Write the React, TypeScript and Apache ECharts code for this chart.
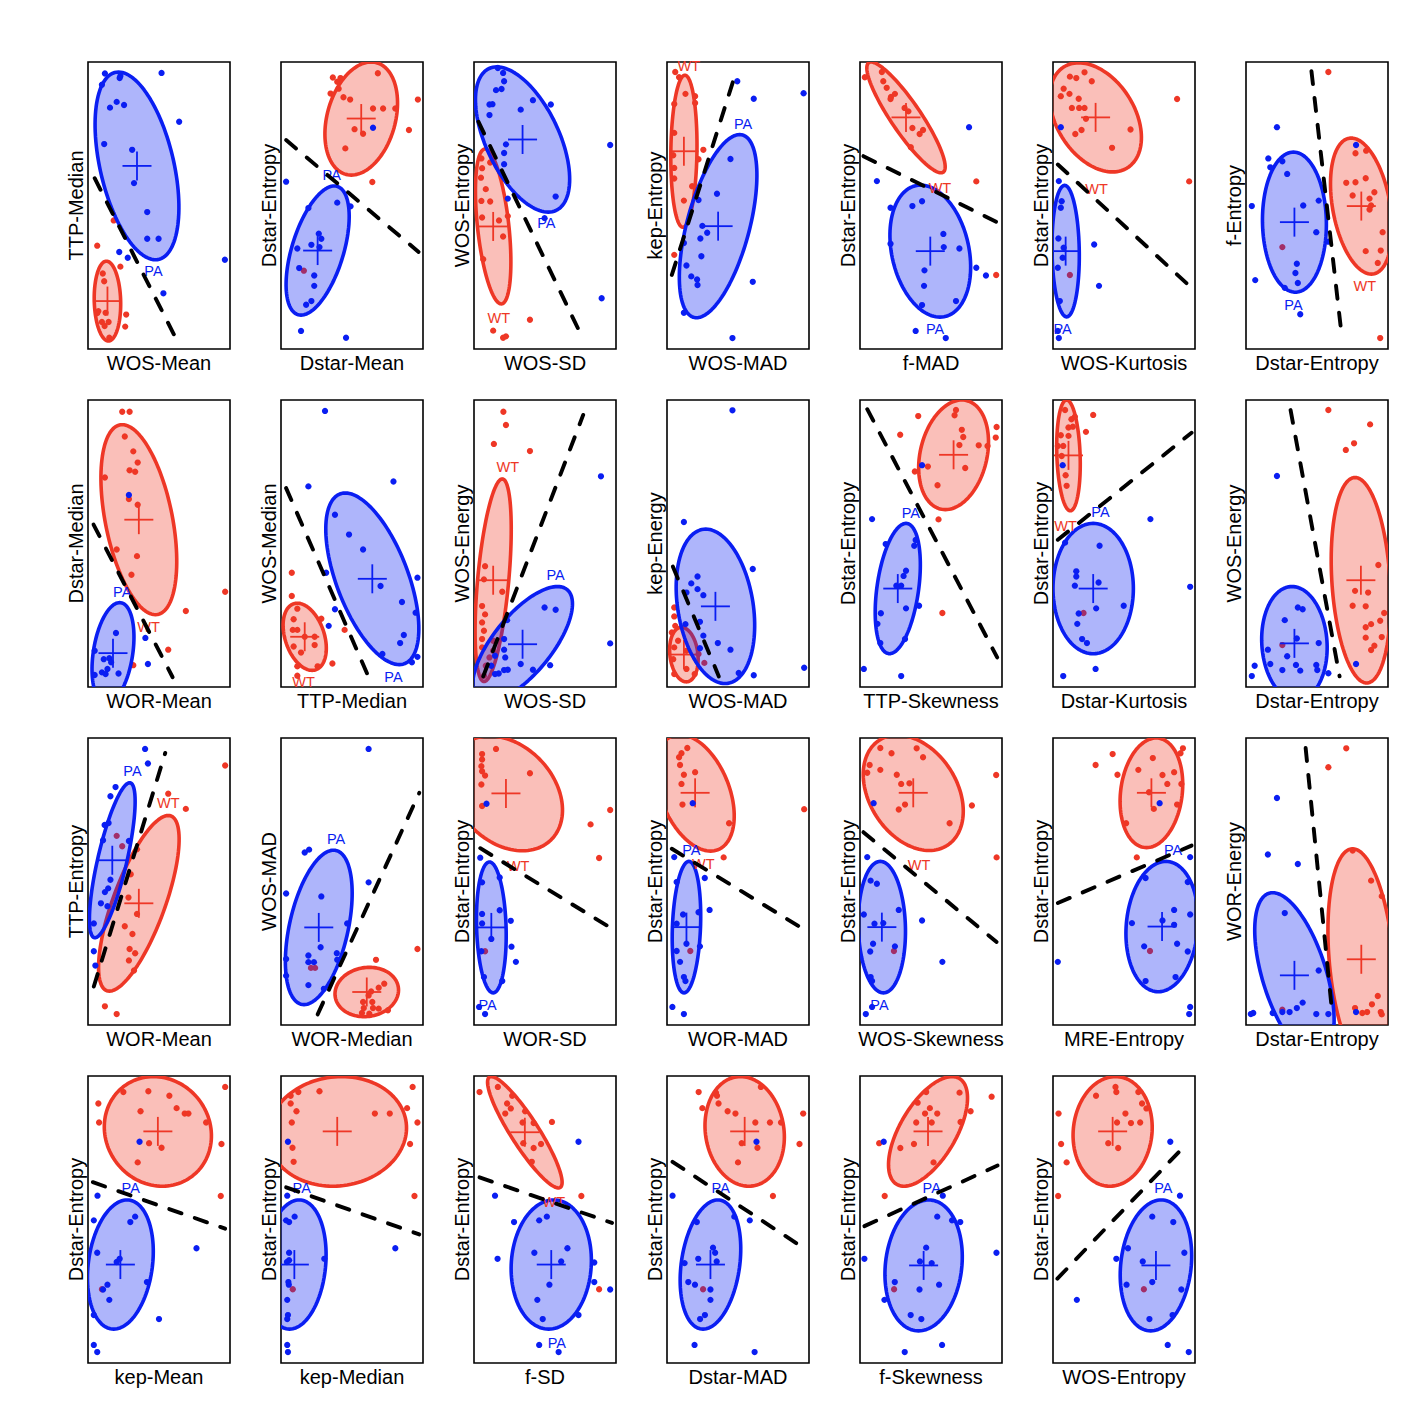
import React, { useEffect, useRef } from "react";
import * as echarts from "echarts";

// ---- axis titles ----
const xNames = [
  "WOS-Mean", "Dstar-Mean", "WOS-SD", "WOS-MAD", "f-MAD", "WOS-Kurtosis", "Dstar-Entropy",
  "WOR-Mean", "TTP-Median", "WOS-SD", "WOS-MAD", "TTP-Skewness", "Dstar-Kurtosis", "Dstar-Entropy",
  "WOR-Mean", "WOR-Median", "WOR-SD", "WOR-MAD", "WOS-Skewness", "MRE-Entropy", "Dstar-Entropy",
  "kep-Mean", "kep-Median", "f-SD", "Dstar-MAD", "f-Skewness", "WOS-Entropy",
];
const yNames = [
  "TTP-Median", "Dstar-Entropy", "WOS-Entropy", "kep-Entropy", "Dstar-Entropy", "Dstar-Entropy", "f-Entropy",
  "Dstar-Median", "WOS-Median", "WOS-Energy", "kep-Energy", "Dstar-Entropy", "Dstar-Entropy", "WOS-Energy",
  "TTP-Entropy", "WOS-MAD", "Dstar-Entropy", "Dstar-Entropy", "Dstar-Entropy", "Dstar-Entropy", "WOR-Energy",
  "Dstar-Entropy", "Dstar-Entropy", "Dstar-Entropy", "Dstar-Entropy", "Dstar-Entropy", "Dstar-Entropy",
];

// ---- points (scaled 0..100 within each panel), WT = red, PA = blue ----
const red01 = [[18.1,44.8],[6.5,36.0],[22.8,28.7],[10.4,26.3],[11.4,23.6],[7.3,13.2],[6.5,12.5],[12.4,12.6],[26.9,12.0],[9.8,9.4],[14.5,9.4],[26.2,7.8],[11.7,8.0],[15.0,3.9]];
const blue01 = [[11.9,96.0],[22.8,95.1],[22.3,94.4],[9.8,92.1],[51.8,96.2],[15.5,84.1],[20.2,86.1],[25.4,85.0],[64.2,79.2],[11.4,71.4],[31.1,69.4],[32.4,57.8],[41.7,47.7],[41.7,38.4],[49.7,38.4],[22.0,33.8],[28.0,31.8],[96.4,31.1],[53.1,19.4]];
const red02 = [[36.5,94.6],[41.9,94.4],[39.6,93.1],[40.6,90.7],[68.2,96.1],[34.9,89.0],[44.0,87.7],[48.7,86.9],[96.4,86.9],[64.8,83.8],[71.9,83.8],[80.5,83.8],[51.8,76.6],[57.8,75.0],[90.1,76.3],[45.3,69.9],[64.3,58.2],[16.1,27.3]];
const blue02 = [[3.6,58.3],[64.8,77.1],[39.6,51.0],[49.0,49.7],[19.3,49.1],[26.6,40.2],[28.4,38.4],[21.4,36.3],[27.1,35.5],[11.5,35.0],[12.8,28.2],[23.4,25.6],[23.4,22.0],[21.4,16.7],[17.7,15.4],[14.1,6.3],[45.8,3.9]];
const red03 = [[5.2,66.4],[11.4,65.0],[5.7,63.0],[4.9,59.7],[8.3,55.7],[5.2,51.6],[11.4,51.4],[5.7,45.8],[17.6,44.8],[23.8,46.3],[20.5,39.2],[6.5,31.3],[39.4,10.2],[13.5,6.4],[20.5,3.9],[22.5,4.4]];
const blue03 = [[16.8,97.9],[20.5,96.2],[21.2,93.3],[15.5,90.2],[19.4,90.6],[10.9,85.2],[13.0,85.3],[10.9,81.5],[32.9,83.4],[41.5,86.7],[54.1,85.2],[22.5,71.3],[21.2,68.3],[21.2,64.4],[95.9,71.1],[23.8,52.4],[57.5,53.1],[49.7,45.6],[89.9,17.7]];
const red04 = [[5.8,96.5],[8.5,94.7],[13.0,88.9],[19.8,88.1],[19.8,85.7],[5.1,85.4],[5.1,75.3],[25.6,69.4],[4.4,67.5],[22.2,66.1],[5.1,63.1],[5.1,59.4],[17.7,56.7],[11.9,51.7],[5.1,32.8]];
const blue04 = [[49.5,93.3],[61.1,87.2],[96.2,89.1],[44.7,66.2],[35.2,54.1],[22.2,51.9],[24.9,42.9],[28.3,40.5],[23.5,38.5],[11.9,36.9],[24.2,32.3],[13.7,29.1],[17.1,25.3],[21.2,24.2],[21.5,22.3],[60.4,23.4],[11.9,12.6],[46.1,3.8]];
const red05 = [[3.4,94.7],[15.4,96.5],[16.4,93.3],[18.8,91.0],[21.8,87.8],[24.6,88.9],[21.5,87.1],[31.4,84.0],[34.1,82.8],[36.9,77.0],[42.0,74.9],[44.4,76.3],[35.8,70.3],[81.9,58.4],[95.9,25.8]];
const blue05 = [[76.8,77.3],[11.9,58.5],[21.5,49.2],[36.9,49.8],[43.7,51.5],[21.5,36.7],[58.7,40.1],[59.0,35.5],[70.0,35.0],[45.4,27.4],[45.1,22.0],[81.9,28.3],[88.7,25.6],[43.7,15.3],[67.6,16.7],[39.2,6.3],[60.4,3.8]];
const red06 = [[11.9,94.9],[16.4,94.4],[22.2,96.4],[27.3,93.3],[7.5,90.7],[5.5,88.1],[11.6,88.9],[18.1,87.2],[13.3,84.0],[18.4,84.0],[22.2,84.0],[23.2,80.2],[15.7,74.9],[20.1,76.3],[54.6,76.5],[41.6,70.1],[87.4,87.1],[95.9,58.4],[11.9,25.8]];
const blue06 = [[5.5,77.3],[4.1,58.5],[6.1,51.5],[5.5,49.2],[3.8,38.5],[7.5,35.3],[6.8,31.8],[3.4,28.3],[29.0,36.4],[32.4,22.0],[4.8,16.7],[3.4,6.3],[4.1,3.8]];
const red07 = [[58.0,96.5],[77.1,68.2],[84.6,69.1],[77.1,58.1],[70.6,57.9],[84.3,59.5],[75.1,53.5],[90.4,54.6],[87.0,52.4],[88.1,50.0],[87.0,48.6],[96.2,40.7],[84.3,34.1],[94.9,34.3],[92.8,30.0],[94.5,3.8],[25.6,35.5]];
const blue07 = [[21.8,77.3],[77.5,71.1],[15.7,66.4],[25.6,65.4],[17.1,63.3],[29.0,61.0],[51.2,51.7],[40.3,50.0],[4.1,49.8],[49.5,40.7],[58.0,37.4],[35.8,29.7],[34.8,26.5],[36.5,23.0],[27.3,21.3],[6.5,24.0],[38.2,12.1]];
const red08 = [[24.1,95.9],[29.3,95.9],[25.9,87.3],[31.9,82.1],[35.0,78.2],[29.3,75.5],[33.2,75.0],[11.9,73.0],[28.8,65.5],[35.0,63.5],[20.2,47.9],[34.5,45.6],[30.6,39.1],[96.6,33.2],[68.9,26.5],[56.5,13.0],[31.9,7.6]];
const blue08 = [[28.8,66.9],[19.7,18.8],[40.4,17.1],[4.7,12.6],[11.1,9.7],[15.0,10.0],[16.3,8.6],[13.7,6.3],[9.8,5.1],[12.4,4.5],[4.7,4.2],[21.5,4.7],[42.2,8.0]];
const red09 = [[7.6,39.8],[7.6,31.7],[11.5,27.3],[8.9,23.6],[28.4,23.8],[8.3,19.9],[11.5,19.9],[23.7,17.5],[16.7,17.5],[8.9,14.1],[23.7,14.6],[14.1,12.0],[44.8,19.9],[36.2,8.2],[11.5,7.2],[25.8,7.2],[11.5,3.9]];
const blue09 = [[31.0,96.2],[19.3,69.9],[79.2,71.6],[38.0,60.0],[47.9,53.1],[57.8,47.9],[31.8,39.8],[70.1,35.2],[96.1,38.1],[85.2,29.6],[94.8,25.9],[38.0,27.1],[33.6,21.3],[86.5,18.1],[83.9,15.3],[71.4,11.5],[96.1,10.5],[92.2,8.6]];
const red10 = [[20.7,95.9],[22.5,91.3],[14.0,84.7],[39.4,82.2],[7.8,42.1],[7.0,37.5],[19.9,33.2],[5.7,28.2],[7.8,25.3],[5.7,22.5],[7.0,19.6],[5.7,16.7],[13.5,16.1],[5.7,13.8],[13.5,12.6],[10.9,10.3],[8.3,7.4],[7.0,3.9]];
const blue10 = [[89.4,73.4],[95.9,15.2],[49.7,27.7],[57.5,26.9],[23.3,23.3],[21.2,16.7],[21.2,13.0],[22.0,10.3],[14.8,10.9],[21.2,5.9],[17.4,4.7],[23.8,6.0],[32.9,8.0],[41.5,6.0],[53.6,7.6],[12.2,7.4],[14.8,4.5]];
const red11 = [[5.1,27.7],[5.1,24.6],[5.8,21.3],[3.4,19.0],[7.8,16.1],[5.1,13.8],[13.7,12.6],[4.4,9.7],[13.7,6.3],[5.1,4.5],[19.5,4.5],[26.3,8.4],[22.2,11.5]];
const blue11 = [[46.1,96.4],[11.9,57.5],[60.4,41.1],[21.5,38.5],[17.1,36.1],[21.5,34.1],[13.7,32.9],[25.6,32.0],[23.2,22.7],[13.0,21.9],[25.6,17.9],[35.8,15.3],[44.7,13.0],[23.2,13.5],[50.5,4.9],[61.1,4.1],[96.6,6.7]];
const red12 = [[67.6,96.5],[66.6,94.7],[41.0,94.4],[96.2,90.6],[95.6,86.9],[71.7,89.6],[72.7,87.1],[28.3,87.9],[83.6,84.2],[89.8,84.0],[70.0,84.3],[47.8,76.8],[74.1,76.3],[38.6,75.1],[54.6,70.3],[55.3,58.4],[58.0,25.8]];
const blue12 = [[43.7,77.3],[8.5,58.5],[18.1,49.8],[39.2,51.2],[38.2,49.2],[32.4,40.5],[30.7,38.7],[25.6,35.3],[29.0,35.3],[41.6,28.3],[32.4,27.4],[14.7,25.7],[12.3,22.0],[14.3,15.3],[31.7,16.7],[2.7,6.3],[29.0,3.8]];
const red13 = [[8.5,96.5],[15.4,94.2],[13.0,93.3],[28.3,94.8],[10.9,90.4],[14.0,90.7],[5.5,87.7],[10.9,87.5],[23.2,88.9],[3.4,84.0],[7.2,84.0],[6.1,80.5],[8.9,73.8],[9.6,70.1],[21.5,25.8]];
const blue13 = [[6.8,77.3],[68.6,58.5],[8.5,50.3],[32.8,49.2],[16.4,40.3],[16.4,38.5],[15.4,35.3],[32.1,36.4],[96.6,34.9],[30.4,27.4],[49.8,28.3],[18.1,25.6],[17.1,22.0],[20.5,16.7],[23.9,15.3],[30.0,6.3],[7.2,3.8]];
const red14 = [[58.0,96.5],[87.4,91.5],[76.1,84.9],[70.3,82.6],[93.2,42.5],[76.8,33.5],[86.0,32.9],[75.1,28.3],[84.3,28.1],[97.3,25.8],[94.5,23.1],[88.1,21.9],[84.3,20.8],[95.6,17.4],[84.3,17.2],[90.4,14.4],[88.1,12.9],[25.6,14.6]];
const blue14 = [[21.8,73.5],[36.5,27.7],[39.9,27.1],[27.3,23.3],[35.8,16.9],[15.4,13.0],[29.0,10.7],[6.1,7.4],[17.1,8.0],[35.2,7.7],[49.5,7.7],[25.6,5.9],[38.2,5.7],[50.2,5.9],[58.0,4.8],[4.1,3.8],[77.5,8.0],[51.2,15.3]];
const red15 = [[96.6,90.4],[56.5,80.6],[68.9,75.3],[20.2,65.9],[24.1,62.3],[34.5,61.2],[30.1,52.5],[28.5,44.4],[34.5,38.7],[25.9,34.4],[31.3,31.7],[29.3,26.5],[33.2,25.0],[28.8,22.5],[32.4,19.0],[11.9,6.5],[20.2,3.8]];
const blue15 = [[40.2,96.2],[42.2,91.1],[19.4,82.9],[15.8,79.7],[11.7,69.7],[14.5,70.4],[10.6,64.4],[28.8,64.1],[15.8,50.6],[14.2,47.6],[11.9,46.3],[9.1,42.4],[13.7,41.4],[4.1,35.4],[4.1,25.7],[5.2,20.7]];
const red16 = [[21.1,19.9],[24.0,19.9],[96.1,26.5],[66.9,22.7],[72.7,14.4],[68.8,13.0],[63.5,11.7],[61.7,10.3],[57.8,8.0],[64.3,8.0],[58.3,5.9],[64.8,5.9],[68.8,5.7],[75.3,5.1],[57.0,4.2],[62.2,3.9]];
const blue16 = [[61.7,96.2],[16.7,60.1],[19.8,61.1],[3.6,45.8],[28.4,44.8],[61.7,49.7],[46.6,35.4],[27.9,27.1],[39.3,25.0],[19.3,24.2],[19.3,21.9],[23.2,21.9],[39.6,22.7],[3.6,23.0],[3.6,17.2],[19.3,13.9],[30.2,12.6]];
const red17 = [[5.7,94.4],[15.5,96.2],[5.7,92.5],[5.2,90.2],[5.7,88.4],[7.8,86.9],[5.2,83.8],[39.4,87.7],[5.7,76.3],[95.9,74.9],[82.1,69.9],[88.1,58.2],[7.8,25.7]];
const blue17 = [[8.8,77.1],[4.4,58.3],[18.1,51.4],[5.7,49.7],[5.7,38.7],[18.1,40.0],[25.9,36.3],[5.7,35.4],[12.2,30.0],[26.4,27.3],[5.2,25.7],[29.5,22.0],[7.0,16.7],[19.9,15.3],[3.6,6.3],[7.8,3.8]];
const red18 = [[14.3,96.5],[10.2,94.7],[8.5,93.3],[9.2,90.6],[11.9,87.2],[19.8,88.1],[10.2,84.0],[10.9,76.8],[43.7,70.3],[39.9,58.4],[96.6,75.2],[16.4,25.8]];
const blue18 = [[18.1,77.3],[5.1,58.5],[26.6,51.2],[6.8,49.8],[30.0,40.1],[11.3,38.5],[6.8,35.3],[22.2,39.3],[13.7,28.3],[23.2,27.4],[6.8,25.8],[9.2,22.0],[11.9,16.7],[13.0,15.3],[3.8,6.3],[11.9,3.8]];
const red19 = [[14.3,96.5],[22.2,94.7],[39.9,96.4],[44.4,93.3],[6.8,90.6],[14.3,88.9],[5.1,87.9],[25.9,87.2],[29.0,84.0],[34.8,84.2],[31.7,76.8],[27.3,75.1],[63.1,70.3],[78.8,76.5],[95.9,87.1],[96.2,58.4],[23.9,25.8]];
const blue19 = [[9.6,77.3],[5.1,58.5],[7.5,50.3],[11.9,49.2],[2.7,38.5],[27.3,40.1],[10.2,35.3],[16.4,35.5],[43.7,36.4],[9.2,28.3],[24.6,27.4],[7.2,25.6],[58.0,22.0],[7.5,16.7],[8.5,15.3],[8.5,6.3],[4.1,3.8]];
const red20 = [[91.5,96.4],[89.8,94.7],[42.0,94.4],[70.3,93.0],[30.0,90.6],[60.1,88.9],[85.3,88.1],[45.4,87.2],[77.1,87.1],[80.5,84.0],[90.4,84.0],[67.6,81.1],[71.0,75.3],[87.4,76.8],[51.5,70.3],[59.0,58.4],[68.3,25.8]];
const blue20 = [[75.1,77.3],[96.6,58.5],[65.2,51.2],[94.9,49.8],[85.3,40.1],[96.6,38.5],[55.6,35.5],[77.1,36.4],[85.3,34.9],[64.2,27.4],[87.4,28.3],[94.9,25.6],[3.4,22.0],[65.2,15.3],[86.3,16.7],[96.6,6.3],[95.9,3.8]];
const red21 = [[70.6,96.4],[58.0,89.8],[75.1,60.8],[88.1,50.3],[95.6,44.9],[92.8,10.1],[88.7,7.2],[76.8,5.9],[85.3,4.5],[94.9,4.5],[81.9,4.2],[95.6,3.7],[25.6,5.3]];
const blue21 = [[21.8,79.1],[15.4,59.4],[36.5,56.1],[27.3,39.0],[51.2,19.0],[39.9,7.8],[35.8,5.9],[30.7,4.5],[25.6,4.5],[18.8,4.2],[5.1,4.2],[3.4,3.8],[49.5,3.8],[58.0,3.8],[77.5,4.5]];
const red22 = [[24.9,94.4],[42.5,94.7],[57.3,93.1],[96.6,96.2],[7.3,90.4],[7.8,83.8],[37.0,87.7],[62.4,88.8],[68.1,86.9],[70.7,86.9],[83.2,83.8],[43.0,76.6],[51.8,75.0],[94.0,76.3],[35.0,69.9],[93.5,58.2],[9.8,25.7]];
const blue22 = [[36.3,77.1],[6.7,58.3],[4.1,49.7],[33.2,51.0],[29.8,49.1],[6.5,38.4],[76.4,40.0],[20.2,35.2],[22.3,36.3],[41.5,28.2],[13.7,27.3],[10.6,25.6],[15.0,22.0],[4.1,16.7],[50.0,15.3],[4.1,6.3],[6.5,3.8]];
const red23 = [[12.2,94.4],[6.8,93.1],[27.1,94.7],[92.7,96.2],[6.8,90.4],[10.9,87.7],[66.1,86.9],[76.6,86.9],[88.8,88.8],[96.1,83.8],[7.6,83.8],[90.9,76.3],[8.1,75.0],[8.9,70.1],[94.0,58.2],[8.3,25.7]];
const blue23 = [[4.9,77.1],[4.4,58.3],[9.6,51.0],[3.6,49.7],[5.7,49.1],[80.5,40.0],[5.7,38.4],[5.7,35.8],[4.2,35.2],[5.2,28.2],[5.5,27.3],[4.4,22.0],[4.9,16.7],[4.4,15.3],[4.4,6.3],[4.9,3.8],[30.5,36.3]];
const red24 = [[3.9,94.4],[16.8,96.2],[26.9,93.1],[23.3,90.4],[22.0,86.9],[25.9,88.7],[36.0,87.7],[34.2,83.8],[42.0,83.6],[54.9,84.0],[34.7,76.6],[42.0,74.9],[47.2,76.3],[40.7,70.1],[75.6,58.2],[88.1,25.7]];
const blue24 = [[73.6,77.1],[14.8,58.3],[28.2,49.1],[45.9,49.7],[51.3,51.0],[16.6,36.3],[42.5,38.4],[65.8,40.0],[61.4,35.4],[84.7,35.0],[84.7,28.2],[95.9,25.6],[53.1,27.3],[44.6,22.0],[48.4,15.3],[73.6,16.7],[45.9,6.3],[59.6,3.8]];
const red25 = [[22.3,94.4],[34.5,94.2],[35.2,93.1],[36.3,90.4],[24.9,88.8],[42.7,87.7],[48.2,86.9],[66.1,96.2],[62.2,83.8],[72.5,83.8],[80.3,83.8],[52.6,76.6],[63.7,75.0],[93.3,76.3],[50.0,69.9],[95.9,86.9],[74.6,58.2],[25.4,25.7]];
const blue25 = [[63.0,77.1],[3.9,58.3],[21.0,49.1],[47.4,51.0],[58.3,49.7],[32.4,40.2],[33.9,38.4],[22.0,36.3],[35.0,35.4],[12.4,34.8],[15.0,28.2],[19.7,27.3],[30.6,25.6],[30.6,22.0],[26.7,16.7],[23.3,15.3],[19.4,6.3],[61.7,3.8]];
const red26 = [[46.6,94.4],[70.1,94.2],[40.6,90.7],[49.2,88.8],[45.8,86.9],[54.4,86.9],[39.6,83.8],[50.5,83.8],[70.8,84.0],[77.9,87.7],[92.7,92.8],[38.0,76.3],[28.4,74.9],[51.8,69.9],[17.4,58.2],[13.5,76.6],[24.0,25.7]];
const blue26 = [[16.7,77.1],[58.3,58.3],[54.4,51.0],[64.8,49.7],[70.6,49.1],[46.6,40.2],[3.1,36.3],[42.2,35.4],[50.5,34.8],[96.1,38.4],[24.5,28.2],[55.7,27.3],[41.9,25.6],[17.2,22.0],[35.7,16.7],[43.2,15.3],[57.8,6.3],[31.5,3.8]];
const red27 = [[44.0,96.2],[44.6,94.4],[30.3,93.1],[60.1,94.4],[62.7,90.4],[65.8,88.7],[51.0,86.9],[3.9,86.9],[45.1,83.8],[54.9,83.6],[61.4,83.8],[38.9,76.6],[45.9,74.9],[5.7,76.3],[9.6,69.9],[3.6,58.2],[64.0,25.7]];
const blue27 = [[82.6,77.1],[89.4,58.3],[69.9,51.0],[84.7,49.1],[52.8,40.0],[44.6,36.3],[63.2,35.4],[92.5,38.4],[69.9,28.2],[51.8,27.3],[90.4,25.6],[16.8,22.0],[67.9,15.3],[84.2,16.7],[80.8,6.3],[95.6,3.8]];

const redSets = [red01,red02,red03,red04,red05,red06,red07,red08,red09,red10,red11,red12,red13,red14,red15,red16,red17,red18,red19,red20,red21,red22,red23,red24,red25,red26,red27];
const blueSets = [blue01,blue02,blue03,blue04,blue05,blue06,blue07,blue08,blue09,blue10,blue11,blue12,blue13,blue14,blue15,blue16,blue17,blue18,blue19,blue20,blue21,blue22,blue23,blue24,blue25,blue26,blue27];

// ---- ellipses: [centerX, centerY, topmostX, topmostY, half-width of horizontal chord through centre] ----
const redEllipses = [
  [13.7,16.7,13.0,30.6,9.3],[56.5,80.3,63.5,100,24.6],[13.5,42.7,7.8,69.7,11.1],[11.9,68.9,12.6,95.4,9.2],[32.4,80.7,7.8,100,12.5],[30.0,80.7,18.1,99.7,30.0],[81.2,49.8,74.1,73.5,20.5],
  [35.8,58.3,24.1,91.4,24.0],[16.7,17.5,11.5,29.2,14.3],[13.5,37.2,19.9,72.5,11.0],[11.9,11.3,10.2,20.8,9.9],[65.9,80.9,71.7,100,23.9],[10.9,80.7,9.6,100,8.2],[80.9,37.2,76.8,73.0,20.5],
  [35.8,42.4,56.5,73.0,19.4],[60.4,11.5,62.2,20.1,22.3],[22.5,80.7,10.9,100.7,38.1],[19.8,80.9,8.9,101.2,25.3],[37.5,80.9,26.3,101.0,33.4],[69.3,80.9,72.7,100,21.8],[81.2,22.9,75.1,61.4,22.7],
  [49.2,80.7,46.1,99.8,37.6],[39.6,80.7,42.7,99.8,48.7],[35.8,80.4,12.2,99.8,11.5],[54.7,80.7,51.8,99.8,27.8],[47.9,80.7,64.8,99.8,22.1],[42.0,80.7,44.0,99.8,27.8],
];
const blueEllipses = [
  [34.5,63.8,21.5,96.5,26.5],[25.8,34.3,37.5,56.8,18.9],[34.2,73.0,16.1,98.3,27.8],[36.0,42.8,51.2,74.7,22.7],[49.5,34.1,42.7,57.1,27.6],[8.9,34.1,8.2,57.0,9.6],[34.1,44.2,33.4,68.6,22.5],
  [17.6,11.8,22.3,29.4,14.0],[64.3,37.7,45.3,67.6,26.7],[34.2,14.9,58.8,35.0,25.1],[34.1,28.1,27.3,55.0,26.8],[26.6,34.3,32.4,57.0,14.8],[28.3,34.3,28.3,57.0,28.3],[34.1,15.2,32.4,35.0,23.0],
  [17.1,57.4,29.3,84.4,10.5],[26.6,34.0,37.0,60.9,21.1],[12.2,34.0,10.9,56.8,10.4],[13.7,34.1,15.4,57.0,9.9],[15.4,34.1,14.3,57.0,16.6],[76.8,34.3,79.5,57.0,25.3],[34.1,17.3,18.8,46.1,23.4],
  [22.8,34.3,27.5,56.8,22.7],[9.4,34.3,12.8,56.8,22.1],[54.4,34.3,56.2,56.8,28.2],[30.6,34.3,35.8,56.8,20.7],[44.8,34.0,48.4,56.8,27.0],[72.5,34.0,76.2,56.8,24.9],
];

// ---- dashed separating lines: [x1, y1, x2, y2] ----
const dashLines = [
  [4.7,59.5,61.7,3.9],[3.6,72.8,96.9,33.8],[3.1,79.2,76.9,3.4],[3.4,25.8,48.8,96.8],[2.4,67.2,97.3,44.0],[3.4,64.3,97.6,21.3],[46.1,96.8,67.6,3.8],
  [3.9,56.6,59.6,3.4],[3.6,69.3,61.5,3.7],[6.5,3.7,76.9,94.8],[4.1,42.0,36.5,3.7],[5.1,96.8,96.6,10.3],[3.4,51.3,97.6,88.6],[31.4,96.5,65.9,3.7],
  [4.1,13.4,54.4,94.8],[25.8,3.7,97.4,80.9],[4.4,61.6,93.8,34.6],[3.4,61.4,93.9,34.1],[2.4,67.2,96.2,28.9],[3.4,42.5,97.6,62.5],[42.0,96.5,60.8,3.7],
  [3.4,63.0,96.6,46.8],[3.6,61.2,97.4,44.8],[3.9,64.7,97.2,48.8],[3.9,70.1,91.5,41.6],[3.1,47.7,96.9,68.8],[3.1,29.4,91.7,75.1],
];

// ---- group labels: [x, y] or null ----
const paLabels = [
  [46.1,27.1],[35.7,60.6],[51.0,43.9],[53.6,78.4],[52.9,6.8],[6.8,6.8],[33.4,15.5],
  [24.1,33.2],[79.2,3.4],[57.5,38.9],null,[35.8,60.8],[33.4,61.0],null,
  [31.3,88.4],[38.8,64.7],[9.6,6.8],[17.1,61.0],[13.7,6.8],[84.6,61.0],null,
  [30.1,60.9],[14.6,60.9],[58.3,6.8],[37.8,60.9],[50.5,60.9],[77.7,60.9],
];
const wtLabels = [
  null,null,[17.4,10.9],[15.4,98.5],[56.3,56.1],[30.7,55.6],[83.6,21.9],
  [42.7,20.9],[15.9,1.9],[23.8,76.6],null,null,[8.9,56.1],null,
  [56.5,77.4],null,[31.1,55.4],[25.6,56.1],[41.6,55.6],null,null,
  null,null,[56.2,56.0],null,null,null,
];

const RED = "#EE3726";
const BLUE = "#0A1EF2";
const RED_FILL = "rgba(238,55,38,0.32)";
const BLUE_FILL = "rgba(10,30,242,0.33)";
const FONT = "Liberation Sans";

function buildOption() {
  const grids: any[] = [];
  const xAxes: any[] = [];
  const yAxes: any[] = [];
  const series: any[] = [];
  for (let i = 0; i < 27; i++) {
    const r = Math.floor(i / 7);
    const c = i % 7;
    grids.push({
      left: 88 + 193 * c,
      top: 62 + 338 * r,
      width: 142,
      height: 287,
      show: true,
      borderColor: "#000",
      borderWidth: 1.6,
      backgroundColor: "#fff",
    });
    const common = {
      gridIndex: i,
      type: "value",
      min: 0,
      max: 100,
      axisLine: { show: false },
      axisTick: { show: false },
      axisLabel: { show: false },
      splitLine: { show: false },
      nameLocation: "middle",
      nameTextStyle: { color: "#000", fontSize: 20, fontFamily: FONT },
    };
    xAxes.push({ ...common, name: xNames[i], nameGap: 4 });
    yAxes.push({ ...common, name: yNames[i], nameGap: 2, nameRotate: 90 });

    series.push({
      type: "scatter", xAxisIndex: i, yAxisIndex: i, data: redSets[i],
      symbolSize: 6.3, itemStyle: { color: RED, opacity: 1 }, z: 2, silent: true,
    });
    const ells = [redEllipses[i], blueEllipses[i]];
    series.push({
      type: "custom", xAxisIndex: i, yAxisIndex: i, data: ells, clip: true, z: 3, silent: true,
      renderItem: (params: any, api: any) => {
        const cx = api.value(0), cy = api.value(1), tx = api.value(2), ty = api.value(3), hw = api.value(4);
        const col = params.dataIndex === 0 ? RED : BLUE;
        const fill = params.dataIndex === 0 ? RED_FILL : BLUE_FILL;
        const cc = api.coord([cx, cy]);
        const t = api.coord([tx, ty]);
        const h = api.coord([cx + hw, cy]);
        const ux = t[0] - cc[0], uy = t[1] - cc[1];
        const vx = h[0] - cc[0], vy = h[1] - cc[1];
        const pts: number[][] = [];
        const N = 120;
        for (let k = 0; k < N; k++) {
          const a = (k / N) * Math.PI * 2;
          pts.push([cc[0] + ux * Math.cos(a) + vx * Math.sin(a), cc[1] + uy * Math.cos(a) + vy * Math.sin(a)]);
        }
        return {
          type: "group",
          children: [
            { type: "polygon", shape: { points: pts }, style: { fill, stroke: col, lineWidth: 3.6, lineJoin: "round" } },
            { type: "line", shape: { x1: cc[0] - 14.5, y1: cc[1], x2: cc[0] + 14.5, y2: cc[1] }, style: { stroke: col, lineWidth: 1.8 } },
            { type: "line", shape: { x1: cc[0], y1: cc[1] - 14.5, x2: cc[0], y2: cc[1] + 14.5 }, style: { stroke: col, lineWidth: 1.8 } },
          ],
        };
      },
    });
    series.push({
      type: "scatter", xAxisIndex: i, yAxisIndex: i, data: blueSets[i],
      symbolSize: 6.3, itemStyle: { color: BLUE, opacity: 1 }, z: 4, silent: true,
    });
    const labs: any[] = [];
    const labTexts: string[] = [];
    if (paLabels[i]) { labs.push(paLabels[i]); labTexts.push("PA"); }
    if (wtLabels[i]) { labs.push(wtLabels[i]); labTexts.push("WT"); }
    if (labs.length) {
      series.push({
        type: "custom", xAxisIndex: i, yAxisIndex: i, data: labs, clip: false, z: 5, silent: true,
        renderItem: (params: any, api: any) => {
          const p = api.coord([api.value(0), api.value(1)]);
          const txt = labTexts[params.dataIndex];
          return {
            type: "text",
            x: p[0],
            y: p[1],
            style: {
              text: txt,
              fill: txt === "PA" ? BLUE : RED,
              fontSize: 14.5,
              fontFamily: FONT,
              align: "center",
              verticalAlign: "middle",
            },
          };
        },
      });
    }
    series.push({
      type: "custom", xAxisIndex: i, yAxisIndex: i, data: [dashLines[i]], clip: true, z: 6, silent: true,
      renderItem: (params: any, api: any) => {
        const p1 = api.coord([api.value(0), api.value(1)]);
        const p2 = api.coord([api.value(2), api.value(3)]);
        return {
          type: "line",
          shape: { x1: p1[0], y1: p1[1], x2: p2[0], y2: p2[1] },
          style: { stroke: "#000", lineWidth: 3.9, lineDash: [13, 14], lineCap: "round" },
        };
      },
    });
  }
  return {
    animation: false,
    backgroundColor: "#fff",
    grid: grids,
    xAxis: xAxes,
    yAxis: yAxes,
    series,
  };
}

export default function App() {
  const ref = useRef<HTMLDivElement>(null);
  useEffect(() => {
    if (!ref.current) return;
    const chart = echarts.init(ref.current, undefined, { renderer: "svg" });
    chart.setOption(buildOption() as any);
    return () => chart.dispose();
  }, []);
  return (
    <div
      ref={ref}
      style={{ position: "absolute", left: 0, top: 0, width: 1414, height: 1420, background: "#fff" }}
    />
  );
}
